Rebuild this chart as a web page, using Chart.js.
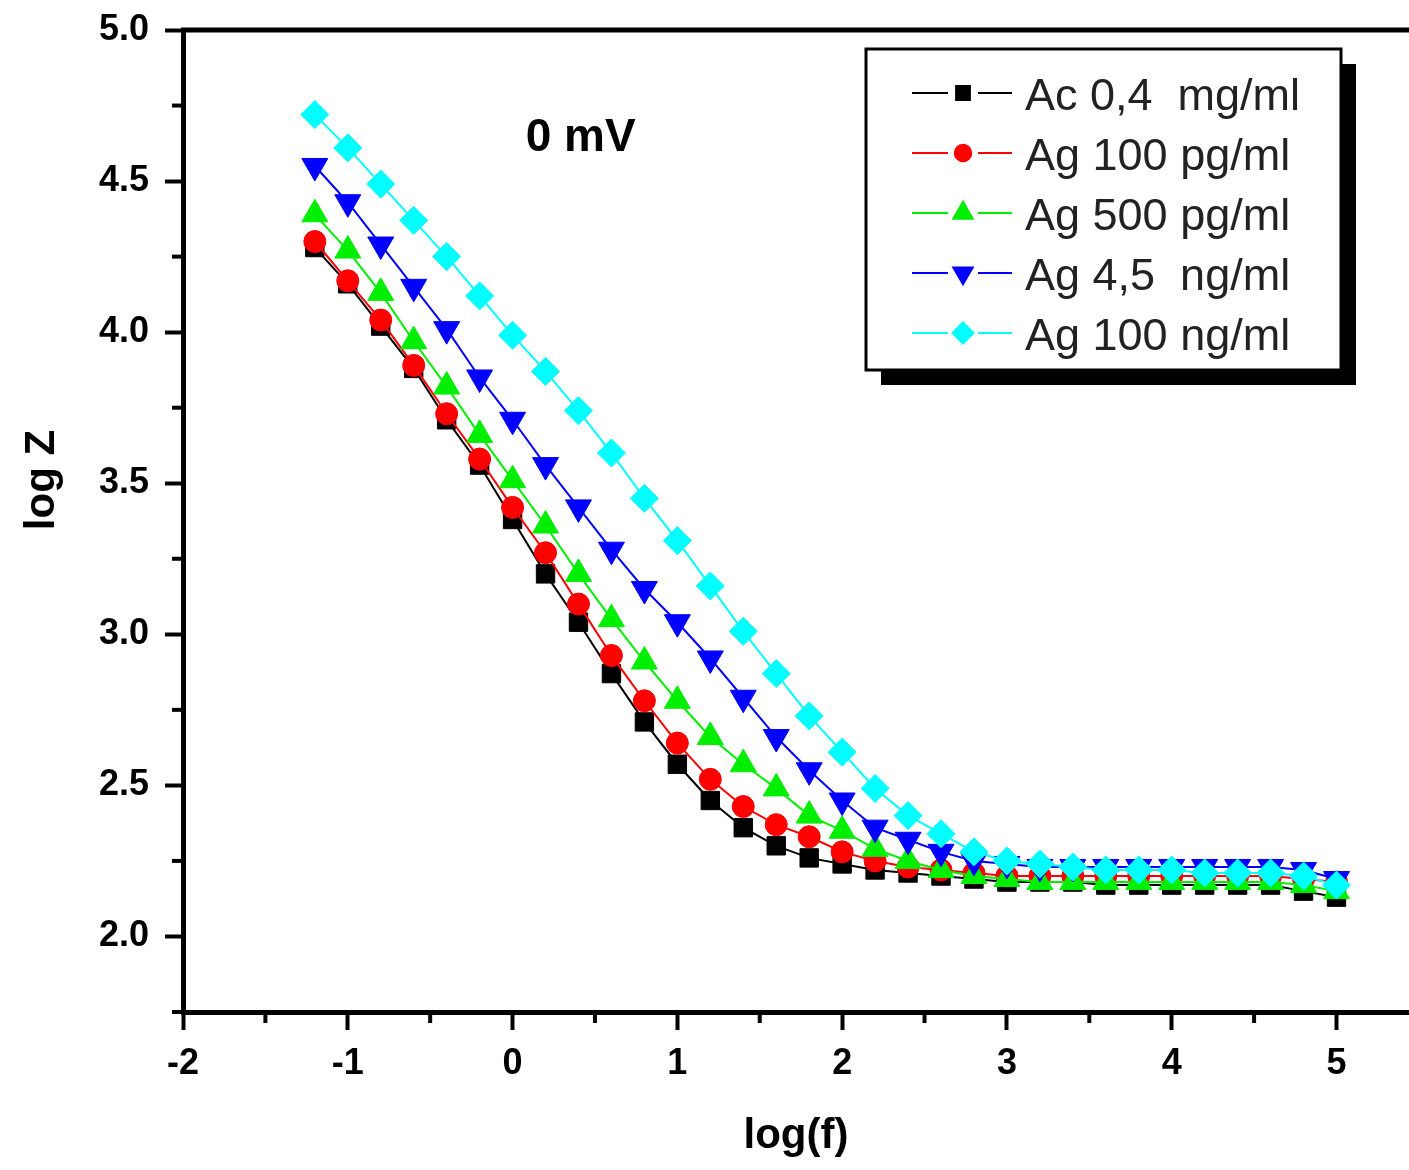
<!DOCTYPE html>
<html>
<head>
<meta charset="utf-8">
<script src="https://cdn.jsdelivr.net/npm/chart.js@4.4.1/dist/chart.umd.min.js"></script>
<style>
  html, body { margin: 0; padding: 0; background: #fff; overflow: hidden; }
  canvas { display: block; }
</style>
</head>
<body>
<canvas id="myChart" width="1409" height="1170"></canvas>
<script>
var logF = [-1.2,-1.0,-0.8,-0.6,-0.4,-0.2,0.0,0.2,0.4,0.6,0.8,1.0,1.2,1.4,1.6,1.8,
            2.0,2.2,2.4,2.6,2.8,3.0,3.2,3.4,3.6,3.8,4.0,4.2,4.4,4.6,4.8,5.0];

var ac04 = [4.28,4.16,4.02,3.88,3.71,3.56,3.38,3.20,3.04,2.87,2.71,2.57,2.45,2.36,2.30,2.26,
            2.24,2.22,2.21,2.20,2.19,2.18,2.18,2.18,2.17,2.17,2.17,2.17,2.17,2.17,2.15,2.13];
var ag100pg = [4.30,4.17,4.04,3.89,3.73,3.58,3.42,3.27,3.10,2.93,2.78,2.64,2.52,2.43,2.37,2.33,
               2.28,2.25,2.23,2.22,2.21,2.20,2.20,2.20,2.20,2.20,2.20,2.20,2.20,2.20,2.19,2.18];
var ag500pg = [4.39,4.27,4.13,3.97,3.82,3.66,3.51,3.36,3.20,3.05,2.91,2.78,2.66,2.57,2.49,2.40,
               2.35,2.29,2.25,2.22,2.20,2.19,2.18,2.18,2.18,2.18,2.18,2.18,2.18,2.18,2.17,2.15];
var ag45ng = [4.55,4.43,4.29,4.15,4.01,3.85,3.71,3.56,3.42,3.28,3.15,3.04,2.92,2.79,2.66,2.55,
              2.45,2.36,2.32,2.28,2.25,2.24,2.23,2.23,2.23,2.23,2.23,2.23,2.23,2.23,2.22,2.19];
var ag100ng = [4.72,4.61,4.49,4.37,4.25,4.12,3.99,3.87,3.74,3.60,3.45,3.31,3.16,3.01,2.87,2.73,
               2.61,2.49,2.40,2.34,2.28,2.25,2.24,2.23,2.22,2.22,2.22,2.21,2.21,2.21,2.20,2.17];

var seriesNames = ["Ac 0,4  mg/ml", "Ag 100 pg/ml", "Ag 500 pg/ml", "Ag 4,5  ng/ml", "Ag 100 ng/ml"];
var seriesData = [ac04, ag100pg, ag500pg, ag45ng, ag100ng];
var seriesColors = ["#000000", "#ff0000", "#00ee00", "#0000ff", "#00ffff"];
var seriesStyles = ["rect", "circle", "triangle", "triangle", "rectRot"];
var seriesRot = [0, 0, 0, 180, 0];
var seriesRadius = [13, 11, 15, 15, 14];

var xMinorTicks = [-1.5,-0.5,0.5,1.5,2.5,3.5,4.5];
var yMinorTicks = [1.75,2.25,2.75,3.25,3.75,4.25,4.75];

function pts(ys) {
  return ys.map(function (y, i) { return {x: logF[i], y: y}; });
}

var datasets = seriesData.map(function (d, i) {
  return {
    label: seriesNames[i],
    data: pts(d),
    borderColor: seriesColors[i],
    backgroundColor: seriesColors[i],
    pointBackgroundColor: seriesColors[i],
    pointBorderColor: seriesColors[i],
    pointBorderWidth: 1,
    pointStyle: seriesStyles[i],
    rotation: seriesRot[i],
    pointRadius: seriesRadius[i],
    borderWidth: 2,
    tension: 0,
    fill: false,
    order: 4 - i
  };
});

// minor ticks, top frame line, texts and the boxed legend
var extras = {
  id: "extras",
  afterDraw: function (chart) {
    var ctx = chart.ctx, a = chart.chartArea;
    var xs = chart.scales.x, ys = chart.scales.y;
    ctx.save();
    ctx.strokeStyle = "#000";
    ctx.lineWidth = 4;
    xMinorTicks.forEach(function (v) {
      var px = xs.getPixelForValue(v);
      ctx.beginPath(); ctx.moveTo(px, a.bottom); ctx.lineTo(px, a.bottom + 11); ctx.stroke();
    });
    yMinorTicks.forEach(function (v) {
      var py = ys.getPixelForValue(v);
      ctx.beginPath(); ctx.moveTo(a.left, py); ctx.lineTo(a.left - 11, py); ctx.stroke();
    });
    ctx.lineWidth = 5;
    ctx.beginPath(); ctx.moveTo(a.left - 2, a.top); ctx.lineTo(a.right, a.top); ctx.stroke();

    ctx.fillStyle = "#000";
    ctx.font = "bold 46px 'Liberation Sans', Arial, sans-serif";
    ctx.textAlign = "left";
    ctx.textBaseline = "alphabetic";
    ctx.fillText("0 mV", xs.getPixelForValue(0.08), ys.getPixelForValue(4.6));

    // y axis title (sits above the middle in the original)
    ctx.save();
    ctx.translate(42, 480);
    ctx.rotate(-Math.PI / 2);
    ctx.textAlign = "center";
    ctx.textBaseline = "middle";
    ctx.font = "bold 42px 'Liberation Sans', Arial, sans-serif";
    ctx.fillText("log Z", 0, 0);
    ctx.restore();

    // legend
    var bx = 866, by = 49, bw = 475, bh = 321;
    ctx.fillStyle = "#000";
    ctx.fillRect(bx + 15, by + 15, bw, bh);
    ctx.fillStyle = "#fff";
    ctx.fillRect(bx, by, bw, bh);
    ctx.lineWidth = 3;
    ctx.strokeRect(bx, by, bw, bh);
    ctx.font = "45px 'Liberation Sans', Arial, sans-serif";
    ctx.textAlign = "left";
    ctx.textBaseline = "alphabetic";
    chart.data.datasets.forEach(function (ds, i) {
      var cy = 93 + 60 * i;
      ctx.strokeStyle = ds.borderColor;
      ctx.lineWidth = 2;
      ctx.beginPath(); ctx.moveTo(912, cy); ctx.lineTo(948, cy); ctx.stroke();
      ctx.beginPath(); ctx.moveTo(978, cy); ctx.lineTo(1012, cy); ctx.stroke();
      ctx.fillStyle = ds.borderColor;
      Chart.helpers.drawPoint(ctx, {
        pointStyle: ds.pointStyle, rotation: ds.rotation,
        radius: ds.pointRadius * 0.75, borderWidth: 1
      }, 963, cy);
      ctx.fillStyle = "#222";
      ctx.fillText(ds.label, 1025, cy + 17);
    });
    ctx.restore();
  }
};

var tickFont = {family: "'Liberation Sans', Arial, sans-serif", size: 36, weight: "bold"};
var titleFont = {family: "'Liberation Sans', Arial, sans-serif", size: 42, weight: "bold"};

new Chart("myChart", {
  type: "line",
  data: {datasets: datasets},
  options: {
    responsive: false,
    animation: false,
    layout: {autoPadding: false, padding: {top: 30, right: 0, left: 0, bottom: 0}},
    plugins: {legend: {display: false}, tooltip: {enabled: false}},
    scales: {
      x: {
        type: "linear",
        min: -2, max: 5.44,
        afterFit: function (s) { s.height = 158; s.paddingLeft = 0; s.paddingRight = 0; },
        ticks: {stepSize: 1, includeBounds: false, color: "#000", font: tickFont, padding: 12,
                callback: function (v) { return String(v); }},
        grid: {drawOnChartArea: false, tickLength: 18, tickWidth: 4, tickColor: "#000"},
        border: {color: "#000", width: 5},
        title: {display: true, text: "log(f)", color: "#000", font: titleFont, padding: {top: 0, bottom: 8}}
      },
      y: {
        type: "linear",
        min: 1.75, max: 5.0,
        afterFit: function (s) { s.width = 183; s.paddingTop = 0; s.paddingBottom = 0; },
        ticks: {stepSize: 0.5, includeBounds: false, color: "#000", font: tickFont, padding: 16,
                callback: function (v) { return v.toFixed(1); }},
        grid: {drawOnChartArea: false, tickLength: 18, tickWidth: 4, tickColor: "#000"},
        border: {color: "#000", width: 5},
        title: {display: false}
      }
    }
  },
  plugins: [extras]
});
</script>
</body>
</html>
